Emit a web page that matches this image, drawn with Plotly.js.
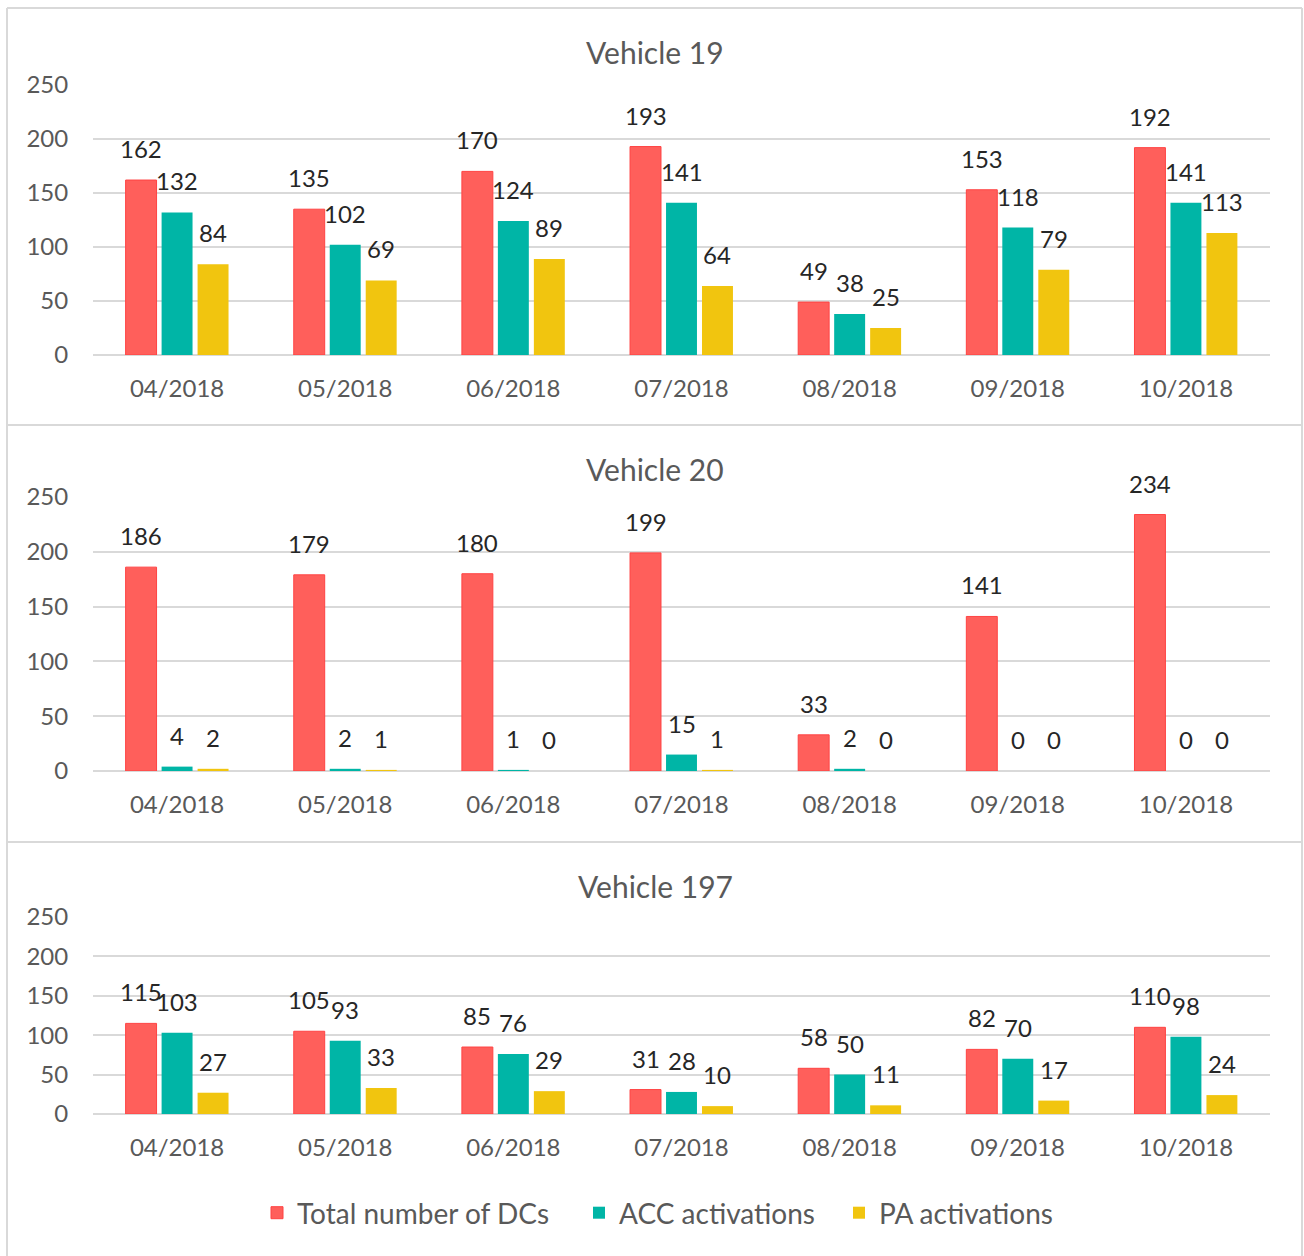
<!DOCTYPE html>
<html>
<head>
<meta charset="utf-8">
<script src="https://cdn.plot.ly/plotly-3.0.1.min.js"></script>
<style>
  html, body { margin: 0; padding: 0; background: #fff; }
  #chart { width: 1304px; height: 1256px; }
</style>
</head>
<body>
<div id="chart"></div>
<script>
// ---- Data ----
const months = ['04/2018', '05/2018', '06/2018', '07/2018', '08/2018', '09/2018', '10/2018'];
const seriesNames = ['Total number of DCs', 'ACC activations', 'PA activations'];
const panelTitles = ['Vehicle 19', 'Vehicle 20', 'Vehicle 197'];

const v19Total = [162, 135, 170, 193, 49, 153, 192];
const v19Acc   = [132, 102, 124, 141, 38, 118, 141];
const v19Pa    = [84, 69, 89, 64, 25, 79, 113];

const v20Total = [186, 179, 180, 199, 33, 141, 234];
const v20Acc   = [4, 2, 1, 15, 2, 0, 0];
const v20Pa    = [2, 1, 0, 1, 0, 0, 0];

const v197Total = [115, 105, 85, 31, 58, 82, 110];
const v197Acc   = [103, 93, 76, 28, 50, 70, 98];
const v197Pa    = [27, 33, 29, 10, 11, 17, 24];

const yTicks = [0, 50, 100, 150, 200, 250];

// ---- Styles ----
const colors = ['#FF5F5B', '#00B5A6', '#F1C50F'];
const lineColors = ['#FF4343', '#00B5A6', '#F1C50F'];
const lineWidths = [1, 0, 0];
const FONT = 'Lato, "Open Sans", "Liberation Sans", sans-serif';
const W = 1304, H = 1256;
const BARGAP = 0.358, BARGROUPGAP = 0.14;
const legendIds = ['legend', 'legend2', 'legend3'];
const legendLeft = [257, 579, 839];
const LEGEND_Y = 1213;

const panels = [
  { data: [v19Total, v19Acc, v19Pa], yTop: 85, yBot: 355, titleY: 52 },
  { data: [v20Total, v20Acc, v20Pa], yTop: 497, yBot: 771, titleY: 469 },
  { data: [v197Total, v197Acc, v197Pa], yTop: 917, yBot: 1114, titleY: 886 }
];

const traces = [];
const annotations = [];
const layout = {
  width: W, height: H,
  paper_bgcolor: '#ffffff', plot_bgcolor: '#ffffff',
  margin: { l: 0, r: 0, t: 0, b: 0 },
  barmode: 'group', bargap: BARGAP, bargroupgap: BARGROUPGAP,
  font: { family: FONT, color: '#595959', size: 24 },
  showlegend: true,
  shapes: [],
  annotations: annotations
};

legendIds.forEach((id, i) => {
  layout[id] = {
    orientation: 'h', x: legendLeft[i] / W, xanchor: 'left',
    y: 1 - LEGEND_Y / H, yanchor: 'middle', borderwidth: 0,
    bgcolor: 'rgba(0,0,0,0)',
    font: { family: FONT, size: 28, color: '#595959' },
    itemclick: false, itemdoubleclick: false
  };
});

const slot = (1 - BARGAP) / 3;

panels.forEach((p, k) => {
  const sfx = k === 0 ? '' : String(k + 1);
  const xa = 'x' + sfx, ya = 'y' + sfx;
  p.data.forEach((vals, i) => {
    traces.push({
      type: 'bar', x: months, y: vals, name: seriesNames[i],
      xaxis: xa, yaxis: ya, legend: legendIds[i], showlegend: k === 0,
      marker: { color: colors[i], line: { color: lineColors[i], width: lineWidths[i] } },
      hoverinfo: 'skip'
    });
    vals.forEach((v, j) => {
      annotations.push({
        xref: xa, yref: ya, x: j + (i - 1) * slot, y: v,
        text: String(v), showarrow: false, xanchor: 'center', yanchor: 'bottom',
        yshift: 15, font: { family: FONT, size: 24, color: '#262626' }
      });
    });
  });
  const domain = [1 - p.yBot / H, 1 - p.yTop / H];
  layout['xaxis' + sfx] = {
    domain: [93 / W, 1270 / W], anchor: ya, type: 'category',
    range: [-0.5, 6.5], showgrid: false, zeroline: false, showline: false,
    ticks: 'outside', ticklen: 12, tickcolor: 'rgba(0,0,0,0)',
    tickfont: { family: FONT, size: 24, color: '#595959' }, fixedrange: true
  };
  layout['yaxis' + sfx] = {
    domain: domain, anchor: xa, range: [0, 250], tickvals: yTicks,
    showgrid: true, gridcolor: '#D9D9D9', gridwidth: 2,
    zeroline: true, zerolinecolor: '#D9D9D9', zerolinewidth: 2, showline: false,
    ticks: 'outside', ticklen: 19, tickcolor: 'rgba(0,0,0,0)',
    tickfont: { family: FONT, size: 24, color: '#595959' }, fixedrange: true
  };
  annotations.push({
    xref: 'paper', yref: 'paper', x: 655 / W, y: 1 - p.titleY / H,
    xanchor: 'center', yanchor: 'middle', showarrow: false,
    text: panelTitles[k], font: { family: FONT, size: 30, color: '#595959' }
  });
});

// Panel frames
const frameLine = { color: '#D9D9D9', width: 2 };
const px = x => x / W, py = y => 1 - y / H;
layout.shapes.push(
  { type: 'line', xref: 'paper', yref: 'paper', x0: px(7), x1: px(1302), y0: py(8), y1: py(8), line: frameLine },
  { type: 'line', xref: 'paper', yref: 'paper', x0: px(7), x1: px(7), y0: py(8), y1: py(1256), line: frameLine },
  { type: 'line', xref: 'paper', yref: 'paper', x0: px(1302), x1: px(1302), y0: py(8), y1: py(1256), line: frameLine },
  { type: 'line', xref: 'paper', yref: 'paper', x0: px(7), x1: px(1302), y0: py(425), y1: py(425), line: frameLine },
  { type: 'line', xref: 'paper', yref: 'paper', x0: px(7), x1: px(1302), y0: py(842), y1: py(842), line: frameLine }
);

Plotly.newPlot('chart', traces, layout, { staticPlot: true, displayModeBar: false });
</script>
</body>
</html>
